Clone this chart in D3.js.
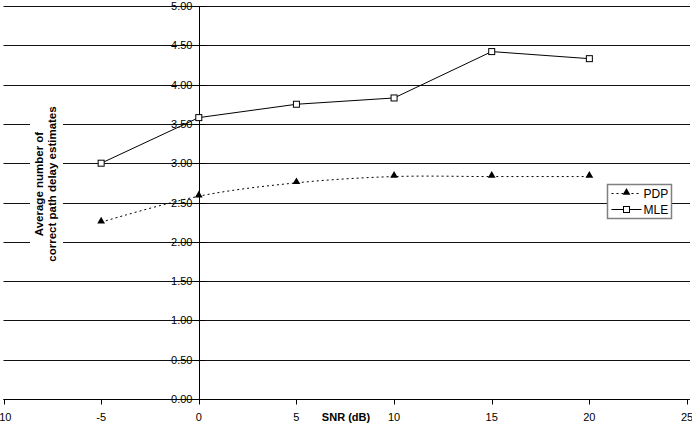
<!DOCTYPE html>
<meta charset="utf-8">
<html>
<head>
<script src="https://d3js.org/d3.v7.min.js"></script>
<style>
  body { margin: 0; background: #fff; }
  text { font-family: "Liberation Sans", Arial, sans-serif; }
</style>
</head>
<body>
<div id="chart"></div>
<script>

var snr = [-5, 0, 5, 10, 15, 20];
var pdp = [2.25, 2.58, 2.75, 2.83, 2.83, 2.83];
var mle = [3.00, 3.58, 3.75, 3.83, 4.42, 4.33];
var xTicks = [-10, -5, 0, 5, 10, 15, 20, 25];
var yTicks = [0, 0.5, 1, 1.5, 2, 2.5, 3, 3.5, 4, 4.5, 5];

var W = 692, H = 430;

var svg = d3.select("#chart")
  .append("svg")
    .attr("width", W)
    .attr("height", H);

var x = d3.scaleLinear().domain([-10, 25]).range([3.5, 687]);
var y = d3.scaleLinear().domain([0, 5]).range([399, 6]);

// horizontal gridlines
svg.append("g")
  .selectAll("line")
  .data(yTicks)
  .enter().append("line")
    .attr("x1", x(-10)).attr("x2", 690)
    .attr("y1", function(d) { return Math.round(y(d)) + 0.5; })
    .attr("y2", function(d) { return Math.round(y(d)) + 0.5; })
    .attr("stroke", "#111")
    .attr("stroke-width", 1);

// white box behind the y label
svg.append("rect")
  .attr("x", 30).attr("y", 99)
  .attr("width", 33).attr("height", 168)
  .attr("fill", "#fff");

// y axis at x = 0
var y0 = Math.round(x(0)) + 0.5;
svg.append("line")
  .attr("x1", y0).attr("x2", y0)
  .attr("y1", y(5)).attr("y2", y(0) + 0.5)
  .attr("stroke", "#000");
svg.append("g")
  .selectAll("line")
  .data(yTicks)
  .enter().append("line")
    .attr("x1", y0 - 6).attr("x2", y0 + 6)
    .attr("y1", function(d) { return Math.round(y(d)) + 0.5; })
    .attr("y2", function(d) { return Math.round(y(d)) + 0.5; })
    .attr("stroke", "#000");
svg.append("g")
  .selectAll("text")
  .data(yTicks)
  .enter().append("text")
    .attr("x", y0 - 7)
    .attr("y", function(d) { return y(d) + 4; })
    .attr("text-anchor", "end")
    .attr("font-size", 11)
    .attr("fill", "#000")
    .text(function(d) { return d3.format(".2f")(d); });

// x axis at y = 0
var xAxisY = Math.round(y(0)) + 0.5;
svg.append("line")
  .attr("x1", x(-10)).attr("x2", x(25))
  .attr("y1", xAxisY).attr("y2", xAxisY)
  .attr("stroke", "#000");
svg.append("g")
  .selectAll("line")
  .data(xTicks)
  .enter().append("line")
    .attr("x1", function(d) { return Math.round(x(d)) + 0.5; })
    .attr("x2", function(d) { return Math.round(x(d)) + 0.5; })
    .attr("y1", xAxisY).attr("y2", xAxisY + 5)
    .attr("stroke", "#000");
svg.append("g")
  .selectAll("text")
  .data(xTicks)
  .enter().append("text")
    .attr("x", function(d) { return x(d); })
    .attr("y", 421)
    .attr("text-anchor", "middle")
    .attr("font-size", 11)
    .attr("fill", "#000")
    .text(function(d) { return d; });

svg.append("text")
  .attr("x", 346).attr("y", 421)
  .attr("text-anchor", "middle")
  .attr("font-size", 11)
  .attr("font-weight", "bold")
  .text("SNR (dB)");

// y label
var yl = svg.append("text")
  .attr("transform", "translate(45,184) rotate(-90)")
  .attr("text-anchor", "middle")
  .attr("font-size", 11.5)
  .attr("font-weight", "bold");
yl.append("tspan").attr("x", 0).attr("dy", -2).text("Average number of");
yl.append("tspan").attr("x", 0).attr("dy", 13).text("correct path delay estimates");

// series
var ptsP = snr.map(function(s, i) { return [s, pdp[i]]; });
var ptsM = snr.map(function(s, i) { return [s, mle[i]]; });

svg.append("path")
  .attr("d", d3.line()
    .x(function(d) { return x(d[0]); })
    .y(function(d) { return y(d[1]); })
    .curve(d3.curveCardinal.tension(0))(ptsP))
  .attr("fill", "none")
  .attr("stroke", "#000")
  .attr("stroke-width", 1)
  .attr("stroke-dasharray", "2,3");

svg.append("path")
  .attr("d", d3.line()
    .x(function(d) { return x(d[0]); })
    .y(function(d) { return y(d[1]); })(ptsM))
  .attr("fill", "none")
  .attr("stroke", "#000")
  .attr("stroke-width", 1);

var tri = d3.symbol().type(d3.symbolTriangle).size(26);

svg.append("g")
  .selectAll("path")
  .data(ptsP)
  .enter().append("path")
    .attr("transform", function(d) { return "translate(" + x(d[0]) + "," + (y(d[1]) - 1) + ")"; })
    .attr("d", tri)
    .attr("fill", "#000");

svg.append("g")
  .selectAll("rect")
  .data(ptsM)
  .enter().append("rect")
    .attr("x", function(d) { return x(d[0]) - 3; })
    .attr("y", function(d) { return y(d[1]) - 3; })
    .attr("width", 6).attr("height", 6)
    .attr("fill", "#fff")
    .attr("stroke", "#000");

// legend
var lg = svg.append("g").attr("transform", "translate(607.5,184.5)");
lg.append("rect")
  .attr("width", 64).attr("height", 34)
  .attr("fill", "#fff")
  .attr("stroke", "#808080")
  .attr("stroke-width", 1.5);

lg.append("line")
  .attr("x1", 4).attr("x2", 34).attr("y1", 9).attr("y2", 9)
  .attr("stroke", "#000").attr("stroke-dasharray", "2,3");
lg.append("path")
  .attr("transform", "translate(19,8)")
  .attr("d", tri).attr("fill", "#000");
lg.append("text").attr("x", 36).attr("y", 13)
  .attr("font-size", 12).text("PDP");

lg.append("line")
  .attr("x1", 4).attr("x2", 34).attr("y1", 25).attr("y2", 25)
  .attr("stroke", "#000");
lg.append("rect")
  .attr("x", 16).attr("y", 22).attr("width", 6).attr("height", 6)
  .attr("fill", "#fff").attr("stroke", "#000");
lg.append("text").attr("x", 36).attr("y", 29)
  .attr("font-size", 12).text("MLE");

</script>
</body>
</html>
